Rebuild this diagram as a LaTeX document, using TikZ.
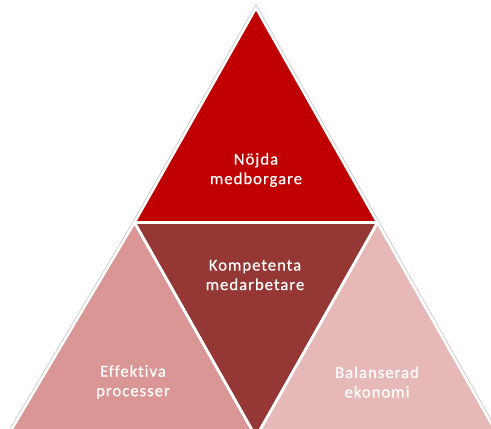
\documentclass[tikz,border=0pt]{standalone}
\usepackage{fontspec}
\setmainfont[LetterSpace=6,FakeBold=0.4,Ligatures={NoCommon}]{Carlito}
\definecolor{topred}{HTML}{C00000}
\definecolor{midred}{HTML}{953735}
\definecolor{leftpink}{HTML}{DA9694}
\definecolor{rightpink}{HTML}{E6B9B8}
\tikzset{
  tri/.style={draw=white, line width=2.6pt, line join=miter},
  outer/.style={draw=gray!55, line width=3.8pt, line join=miter},
  lbl/.style={text=white, align=center, font=\fontsize{16.7}{19.5}\selectfont, inner sep=0pt}
}
\begin{document}
\begin{tikzpicture}[x=1pt,y=-1pt]
\useasboundingbox (0,0) rectangle (491,429);
\clip (0,0) rectangle (491,429);
\fill[white] (0,0) rectangle (491,429);
\coordinate (A) at (256,8);
\coordinate (L) at (134.5,222.5);
\coordinate (R) at (377.5,222.5);
\coordinate (M) at (256,437);
\coordinate (BL) at (7,437);
\coordinate (BR) at (499,437);
% grey outer rim
\draw[outer] (BL) -- (L) -- (A) -- (BR);
% triangles
\fill[topred] (A) -- (L) -- (R) -- cycle;
\fill[midred] (L) -- (R) -- (M) -- cycle;
\fill[leftpink] (L) -- (BL) -- (M) -- cycle;
\fill[rightpink] (R) -- (M) -- (BR) -- cycle;
\draw[tri] (A) -- (L) -- (R) -- cycle;
\draw[tri] (L) -- (R) -- (M) -- cycle;
\draw[tri] (L) -- (BL) -- (M) -- cycle;
\draw[tri] (R) -- (M) -- (BR) -- cycle;
% labels
\node[lbl] (nojda) at (256,170) {Nöjda\\medborgare};
\node[lbl] (komp) at (255,275) {Kompetenta\\medarbetare};
\node[lbl] (eff) at (133,382) {Effektiva\\processer};
\node[lbl] (bal) at (377,382) {Balanserad\\ekonomi};
\end{tikzpicture}
\end{document}
